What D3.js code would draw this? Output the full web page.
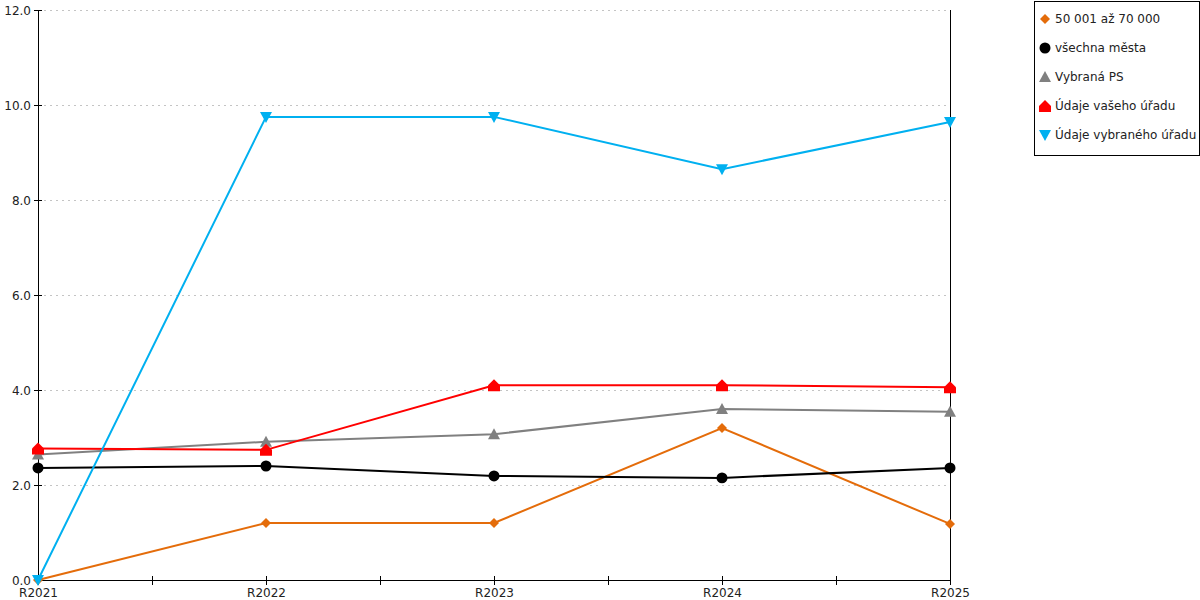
<!DOCTYPE html>
<html>
<head>
<meta charset="utf-8">
<script src="https://cdn.jsdelivr.net/npm/d3@7"></script>
<style>
  body { margin: 0; background: #fff; }
  text { font-family: "DejaVu Sans", Verdana, sans-serif; font-size: 12px; fill: #222; }
</style>
</head>
<body>
<script>
var width = 1200;
var height = 600;

var categories = ["R2021", "R2022", "R2023", "R2024", "R2025"];
var yTicks = [0, 2, 4, 6, 8, 10, 12];

var seriesNames = ["50 001 až 70 000", "všechna města", "Vybraná PS", "Údaje vašeho úřadu", "Údaje vybraného úřadu"];
var orangeValues = [0, 1.2, 1.2, 3.2, 1.18];
var blackValues = [2.36, 2.4, 2.19, 2.15, 2.36];
var grayValues = [2.64, 2.91, 3.07, 3.6, 3.54];
var redValues = [2.77, 2.74, 4.1, 4.1, 4.06];
var blueValues = [0, 9.75, 9.75, 8.65, 9.64];

var colors = ["#e46c0a", "#000000", "#808080", "#ff0000", "#00b0f0"];
var shapes = ["diamond", "circle", "triUp", "house", "triDown"];

var series = [orangeValues, blackValues, grayValues, redValues, blueValues].map(function (vals, i) {
    return { name: seriesNames[i], color: colors[i], shape: shapes[i], values: vals };
});

var svg = d3.select('body')
    .append("svg")
    .attr("width", width)
    .attr("height", height);

var plot = { left: 38, right: 950, top: 10, bottom: 580 };

var xScale = d3.scalePoint()
    .domain(categories)
    .range([plot.left, plot.right]);

var yScale = d3.scaleLinear()
    .domain([0, 12])
    .range([plot.bottom, plot.top]);

// grid
svg.append('g').classed('grid', true)
    .selectAll('line')
    .data(yTicks.filter(function (d) { return d > 0; }))
    .enter().append('line')
    .attr('x1', plot.left).attr('x2', plot.right)
    .attr('y1', function (d) { return yScale(d) + 0.5; })
    .attr('y2', function (d) { return yScale(d) + 0.5; })
    .attr('stroke', '#c4c4c4')
    .attr('stroke-dasharray', '2,4');

// y axis (ticks crossing the line)
var yAxis = d3.axisLeft(yScale)
    .tickValues(yTicks)
    .tickFormat(d3.format('.1f'))
    .tickSizeInner(4)
    .tickSizeOuter(0);
var yAxisGroup = svg.append('g')
    .attr('transform', 'translate(' + plot.left + ',0)')
    .call(yAxis);
yAxisGroup.selectAll('.tick line').attr('x2', -4).attr('x1', 4);
yAxisGroup.select('.domain').attr('stroke', '#000');
yAxisGroup.selectAll('text').attr('x', -7).attr('dy', '0.35em')
    .style('font-family', '"DejaVu Sans", sans-serif').style('font-size', '12px').attr('fill', '#222');

// x axis with minor ticks
var xAxis = d3.axisBottom(xScale).tickSize(0).tickPadding(8);
var xAxisGroup = svg.append('g')
    .attr('transform', 'translate(0,' + plot.bottom + ')')
    .call(xAxis);
xAxisGroup.select('.domain').attr('stroke', '#000');
xAxisGroup.selectAll('text')
    .style('font-family', '"DejaVu Sans", sans-serif').style('font-size', '12px').attr('fill', '#222');

var step = xScale.step();
var tickPos = [];
categories.forEach(function (c, i) {
    tickPos.push(xScale(c));
    if (i < categories.length - 1) tickPos.push(xScale(c) + step / 2);
});
xAxisGroup.selectAll('.mtick')
    .data(tickPos)
    .enter().append('line')
    .attr('x1', function (d) { return d + 0.5; })
    .attr('x2', function (d) { return d + 0.5; })
    .attr('y1', -4).attr('y2', 5)
    .attr('stroke', '#000');

// right frame line
svg.append('line')
    .attr('x1', plot.right + 0.5).attr('x2', plot.right + 0.5)
    .attr('y1', plot.top).attr('y2', plot.bottom)
    .attr('stroke', '#000');

// markers
function markerPath(shape) {
    switch (shape) {
        case 'diamond': return 'M0,-5L5,0L0,5L-5,0Z';
        case 'circle': return d3.symbol().type(d3.symbolCircle).size(95)();
        case 'triUp': return 'M0,-6L6,5L-6,5Z';
        case 'house': return 'M0,-6L6,0L6,6L-6,6L-6,0Z';
        case 'triDown': return 'M-6,-5L6,-5L0,6Z';
    }
}

var line = d3.line()
    .x(function (d, i) { return xScale(categories[i]); })
    .y(function (d) { return yScale(d); });

var seriesGroup = svg.selectAll('.series')
    .data(series)
    .enter().append('g')
    .classed('series', true);

seriesGroup.append('path')
    .attr('d', function (d) { return line(d.values); })
    .attr('fill', 'none')
    .attr('stroke', function (d) { return d.color; })
    .attr('stroke-width', 2);

seriesGroup.each(function (s) {
    d3.select(this).selectAll('.pt')
        .data(s.values)
        .enter().append('path')
        .attr('d', markerPath(s.shape))
        .attr('fill', s.color)
        .attr('transform', function (d, i) {
            return 'translate(' + xScale(categories[i]) + ',' + yScale(d) + ')';
        });
});

// legend
var legend = svg.append('g').attr('transform', 'translate(1034,1)');
legend.append('rect')
    .attr('x', 0.5).attr('y', 0.5)
    .attr('width', 165).attr('height', 154)
    .attr('fill', '#fff').attr('stroke', '#000');

var items = legend.selectAll('.item')
    .data(series)
    .enter().append('g')
    .attr('transform', function (d, i) { return 'translate(11,' + (18 + i * 29) + ')'; });
items.append('path')
    .attr('d', function (d) { return markerPath(d.shape); })
    .attr('fill', function (d) { return d.color; });
items.append('text')
    .attr('x', 10).attr('dy', '0.35em')
    .text(function (d) { return d.name; });
</script>
</body>
</html>
